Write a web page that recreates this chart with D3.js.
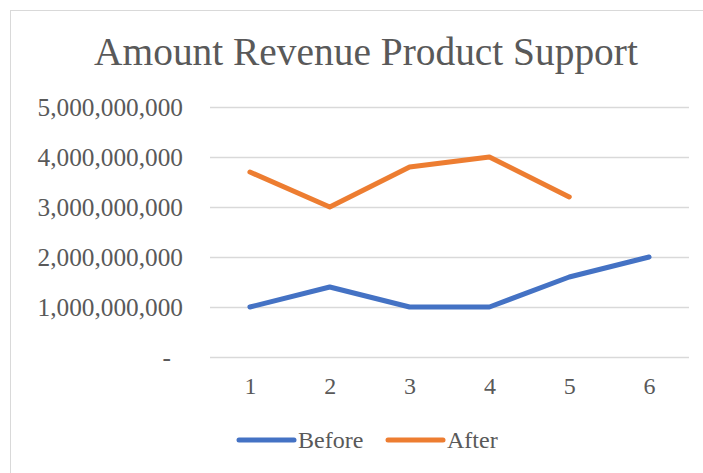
<!DOCTYPE html>
<html>
<head>
<meta charset="utf-8">
<script src="https://cdn.jsdelivr.net/npm/d3@7"></script>
<style>
  body { margin: 0; background: #fff; }
  svg { display: block; font-family: "Liberation Serif", "DejaVu Serif", serif; }
</style>
</head>
<body>
<div class="chart"></div>
<script>
// chart data
const categories = ["1", "2", "3", "4", "5", "6"];
const beforeValues = [1.0e9, 1.4e9, 1.0e9, 1.0e9, 1.6e9, 2.0e9];
const afterValues = [3.7e9, 3.0e9, 3.8e9, 4.0e9, 3.2e9];
const yTicks = [0, 1e9, 2e9, 3e9, 4e9, 5e9];
const seriesNames = ["Before", "After"];
const seriesColors = ["#4472C4", "#ED7D31"];

const width = 703, height = 473;
const textColor = "#595959";

const svg = d3.select(".chart")
  .append("svg")
    .attr("width", width)
    .attr("height", height);

// chart area border
svg.append("rect")
    .attr("x", 10.5)
    .attr("y", 10.5)
    .attr("width", 720)
    .attr("height", 500)
    .attr("fill", "#fff")
    .attr("stroke", "#d9d9d9");

const x = d3.scalePoint()
    .domain(categories)
    .range([210, 689])
    .padding(0.5);

const y = d3.scaleLinear()
    .domain([0, 5e9])
    .range([357, 107]);

// title
const title = svg.append("text")
    .attr("x", 366)
    .attr("y", 65)
    .attr("text-anchor", "middle")
    .attr("fill", textColor)
    .style("font-size", "36px")
    .text("Amount Revenue Product Support");
// fit title to the reference width
const tw = title.node().getComputedTextLength();
title.style("font-size", (36 * 544 / tw) + "px");

// y axis with gridlines
const yAxis = svg.append("g")
    .attr("transform", "translate(210,0)")
    .call(d3.axisLeft(y)
      .tickValues(yTicks)
      .tickSize(-479)
      .tickPadding(27)
      .tickFormat(d => d === 0 ? "-" : d3.format(",")(d)));
yAxis.select(".domain").remove();
yAxis.selectAll(".tick line")
    .attr("stroke", "#d9d9d9")
    .attr("stroke-width", 1.3);
yAxis.selectAll(".tick text")
    .attr("fill", textColor)
    .style("font-family", "Liberation Serif")
    .style("font-size", "25.3px")
    .attr("dx", d => d === 0 ? -12 : 0);

// x axis labels
const xAxis = svg.append("g")
    .attr("transform", "translate(0,357)")
    .call(d3.axisBottom(x).tickSize(0).tickPadding(20));
xAxis.select(".domain").remove();
xAxis.selectAll(".tick text")
    .attr("fill", textColor)
    .style("font-family", "Liberation Serif")
    .style("font-size", "24px");

// lines
const line = d3.line()
    .x((d, i) => x(categories[i]))
    .y(d => y(d));

[beforeValues, afterValues].forEach((vals, i) => {
  svg.append("path")
      .datum(vals)
      .attr("d", line)
      .attr("fill", "none")
      .attr("stroke", seriesColors[i])
      .attr("stroke-width", 5)
      .attr("stroke-linejoin", "round")
      .attr("stroke-linecap", "round");
});

// legend
const legendX = [239, 388];
const legend = svg.selectAll(".legend")
  .data(seriesNames)
  .join("g")
    .attr("class", "legend")
    .attr("transform", (d, i) => `translate(${legendX[i]},440)`);
legend.append("line")
    .attr("x1", 0)
    .attr("x2", 55)
    .attr("stroke", (d, i) => seriesColors[i])
    .attr("stroke-width", 5)
    .attr("stroke-linecap", "round");
legend.append("text")
    .attr("x", 59)
    .attr("y", 8)
    .attr("fill", textColor)
    .style("font-size", "24px")
    .text(d => d);
</script>
</body>
</html>
